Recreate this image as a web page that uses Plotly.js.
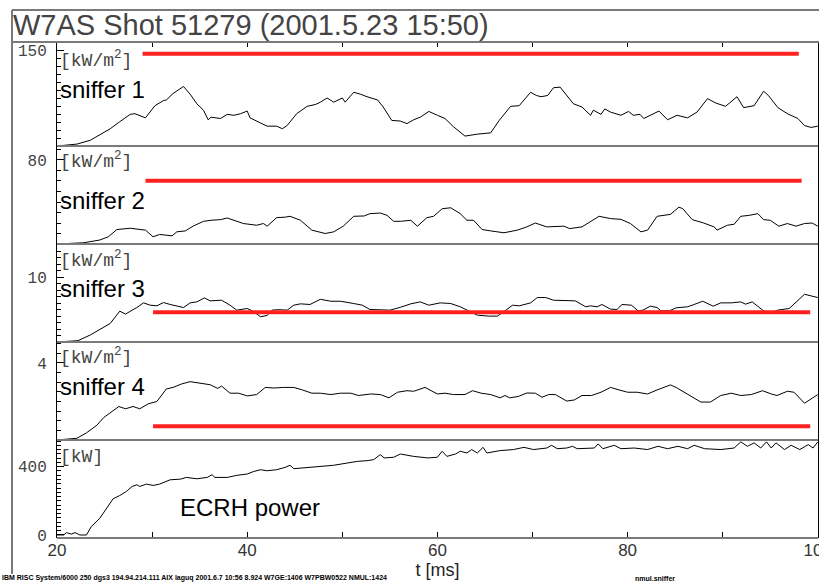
<!DOCTYPE html>
<html>
<head>
<meta charset="utf-8">
<script src="https://cdn.plot.ly/plotly-3.0.1.min.js"></script>
<style>html,body{margin:0;padding:0;background:#fff;} #chart{width:819px;height:582px;}</style>
</head>
<body>
<div id="chart"></div>
<script>
// ---- data ----
const t1 = [20,22.1,23.5,24.5,25.6,26.6,27.7,28.2,29.3,30.3,31.2,31.5,32.2,33.3,34,34.7,35.4,35.9,36.2,37.2,37.9,38.6,39.3,40,40.3,41.4,42.1,43.1,43.7,44.2,45.2,46.3,47.2,47.7,48.4,49.1,50,50.3,51.2,51.9,52.6,53.7,54.3,55.2,56.1,56.8,57.5,58.2,59.1,60,60.8,61.7,62.9,64.2,65.6,66.5,67.7,68.6,69.8,70.4,70.9,71.6,72.2,72.9,73.6,74.3,75.2,76.1,76.4,77.2,77.6,78.2,79.3,80.1,80.6,81.3,81.7,83.3,84.2,85.2,86.3,87.3,88.4,89.3,90.3,91.5,92.2,93.3,94.3,94.8,95.8,96.8,97.9,98.6,99.3,100];
const sniffer1 = [0,3,9,17,27,38,49.5,50.5,44,63,71,72,82,93,81,66,56,41,45,43,49.5,48,50.5,54.6,44,36,31,31,27,32,50.5,62,65,68.5,75,68.5,75,68.5,84,81,77,72,61,40,39,35,41,45,54,48,43,30,15.5,18.5,20.6,40,62,63,84,79,77,79,91,92,79,66,61,48,56,49.5,58,53,48,54,48,49.5,43,54.6,41,48,44,53,74,67,62,77,60,63,85.5,79,60,50.5,43,32,29,31];

const t2 = [20,22.8,24.5,25.4,26.3,27.7,29.3,30.1,30.8,32.1,32.6,33.5,34.3,35.4,36.2,37.2,37.9,38.6,39.6,41,41.7,42.1,43.1,44,44.5,45.6,46.8,48.2,49.1,50.1,51.2,52.3,52.9,54,54.7,55.4,56.1,57.2,57.9,58.9,59.6,60.5,61.4,62.4,63.1,63.8,64.7,65.6,67,68.4,69.4,70.3,71.5,73.3,73.9,75.2,76.1,77,78.2,79.3,80.3,81.4,82.1,83.1,84.5,85.4,85.8,86.8,88,89.1,89.4,90.5,91.2,91.9,92.8,93.7,94.3,95,95.9,96.8,97.7,98.6,99.4,100];
const sniffer2 = [0,1.2,3.8,6.9,13.8,15,13.2,6.9,9.1,7.8,11.6,12.5,17,21.6,22.6,23.2,24.8,22.6,19.5,17.9,19.5,17,25.1,25.6,26.4,22.6,13.2,10,11.6,17,26.4,26.7,28.9,29.5,27.3,21.6,21.6,22.6,17,25.1,26.4,33.6,34.5,28.9,22.6,22.6,13.8,12.5,10.7,13.2,16.3,20,16.3,17,14.7,16.3,21,26.4,24.2,23.5,19.5,11.6,13.2,26.4,28.2,35.1,33.6,23.2,20,16.3,13.2,17.9,18.8,26.4,27.3,28.9,23.2,22.6,17,19.5,17,19.5,20,17];

const t3 = [20,22.2,23.5,24.5,25.6,26.6,27.2,27.9,28.4,29.1,29.8,30.5,31.2,31.9,33.3,34,34.7,35.5,36.1,37.3,38.2,38.9,40,40.7,41.4,42.1,42.6,43.3,44.2,44.9,45.6,46.6,47.7,48.8,49.8,51.2,52.1,52.9,54,55,56.1,57.2,58.2,59.1,60.3,61.4,62.4,63.3,64.2,65.4,66.3,67.2,67.9,68.6,69.8,70.5,71.4,72.2,72.9,74.5,75.6,76.1,76.8,77.3,78.2,78.9,79.4,80.4,81.1,81.6,82.4,83.1,83.5,84.4,85.1,86.3,87,87.9,89,89.8,90.9,91.9,92.4,93.1,94.2,94.9,95.8,97,98.6,100];
const sniffer3 = [0,0.2,1.08,1.95,2.87,4.77,4.31,4.92,5.33,6.05,5.69,5.59,6.1,5.8,5.33,6.05,6.2,6.82,6.36,6.46,5.69,4.92,5.18,4.67,3.9,4.1,4.92,5,4.92,5.69,5.9,5.8,6.6,6.3,6.3,5.95,5.69,5.03,5.03,4.92,5.36,5.9,6.2,5.69,6.05,5.95,5.44,4.77,4.15,4,4,4.92,5.69,5.59,6.05,6.87,6.87,6.46,6.46,6.36,5.44,5.59,5.44,5.8,5.08,5.03,5.8,5.69,4.82,4.92,5.54,5.33,4.82,4.82,5.28,5.44,5.8,6.3,5.54,6.05,6.05,6.2,5.85,6.2,4.92,4.41,4.92,5.18,7.38,6.87];

const t4 = [20,22.1,23.1,24.2,24.9,25.6,26.5,27.2,28,28.7,29.6,30.5,31.5,32.2,33.1,34,35,36.1,36.9,37.3,38.2,39.1,40,41,41.9,42.8,43.8,44.9,45.8,46.8,47.7,48.8,49.8,50.9,51.7,53,54,54.9,55.8,56.8,57.5,58.7,60,60.8,61.7,62.9,63.7,64.6,65.6,66.6,67.1,67.6,68.5,69.4,70.3,71,71.7,72.4,73.6,74.4,75.2,76.2,77.2,78.2,79.1,80,81,82.1,83.1,84.5,85.1,86.3,87.7,88.7,89.8,90.9,91.9,93,94.2,95.1,95.7,96.8,97.5,98.6,99.4,100];
const sniffer4 = [0,0.09,0.37,0.77,1.16,1.4,1.74,1.62,1.74,1.62,1.88,2,2.65,2.73,2.91,3.03,2.95,2.87,2.68,2.8,2.43,2.43,2.29,2.36,2.73,2.7,2.73,2.73,2.6,2.43,2.43,2.36,2.43,2.43,2.31,2.39,2.36,2.19,2.48,2.56,2.53,2.73,2.39,2.43,2.36,2.36,2.56,2.43,2.36,2.19,2.31,2.19,2.26,2.44,2.43,2.22,2.36,2.36,2.02,2.08,2.31,2.31,2.48,2.73,2.6,2.48,2.48,2.39,2.6,2.86,2.73,2.39,1.97,1.97,2.31,2.43,2.31,2.36,2.56,2.39,2.31,2.53,2.48,1.91,2.19,2.36];

const t5 = [20,20.7,21,21.5,21.9,22.4,23.1,23.6,24.5,25.2,25.9,26.6,27.3,27.9,28.4,28.7,29.4,30.1,30.8,31.9,33,33.6,34.7,35.8,36.3,36.6,37.9,38.9,40,40.7,41.4,42.1,43.1,44,44.5,44.9,46.3,47.7,49.1,50.5,51.6,52.6,53.3,54,54.4,55.4,56.1,57.5,59,60,60.5,61,61.9,62.4,63.1,63.6,64.2,64.8,65.2,66.6,68,69.1,70.1,71.5,72,72.6,73.6,74.2,74.7,76.5,76.9,77.4,78.6,79.3,80.7,82.1,83.2,84.2,85.3,86.3,87,88.1,89.8,91.2,91.9,92.6,93.3,94,94.6,95.1,95.6,96.5,97.2,98.1,99,99.5,100];
const ecrhPower = [0,0,14,5,14,0,0,49,98,153,212,231,255,284,294,284,298,290,298,323,327,337,329,337,353,337,337,349,357,372,382,376,382,396,408,388,396,400,408,421,431,435,441,470,451,455,474,460,451,455,490,460,474,490,480,500,480,513,480,494,500,513,500,509,525,505,509,519,505,509,533,505,525,505,509,500,519,505,519,505,525,505,500,509,545,519,539,509,545,509,539,500,525,500,529,509,545];

// red reference levels (sniffer 1..4)
const refStart = [29, 29.3, 30.1, 30.1];
const refEnd   = [98, 98.3, 99.2, 99.2];
const refLevel = [144.2, 60.3, 4.59, 0.71];

// labels
const panelNames = ['sniffer 1', 'sniffer 2', 'sniffer 3', 'sniffer 4', 'ECRH power'];
const unitLabels = ['[kW/m<sup>2</sup>]', '[kW/m<sup>2</sup>]', '[kW/m<sup>2</sup>]', '[kW/m<sup>2</sup>]', '[kW]'];
const yTickVals = [[150], [80], [10], [4], [0, 400]];
const xTickVals = [20, 40, 60, 80, 100];
const titleText = 'W7AS Shot 51279 (2001.5.23 15:50)';
const footerLeft = 'IBM RISC System/6000 250 dgs3 194.94.214.111 AIX laguq 2001.6.7 10:56 8.924 W7GE:1406 W7PBW0522 NMUL:1424';
const footerRight = 'nmul.sniffer';

// ---- layout geometry ----
const domains = [[0.7903, 1], [0.5927, 0.7903], [0.3952, 0.5927], [0.1976, 0.3952], [0, 0.1976]];
const ranges = [[0, 162.5], [0, 93.3], [0, 15.15], [0, 5.09], [-17.6, 556]];
const minorDt = [12.5, 10, 1, 0.5, 25];
const unitY = [0.827, 0.857, 0.837, 0.847, 0.827];
const nameY = [0.548, 0.449, 0.551, 0.541, 0.316];

const tArr = [t1, t2, t3, t4, t5];
const vArr = [sniffer1, sniffer2, sniffer3, sniffer4, ecrhPower];
const yNames = ['y', 'y2', 'y3', 'y4', 'y5'];

const traces = [];
for (let i = 0; i < 5; i++) {
  traces.push({
    x: tArr[i], y: vArr[i], type: 'scatter', mode: 'lines',
    xaxis: i === 0 ? 'x2' : 'x', yaxis: yNames[i],
    line: {color: '#000', width: 1}, hoverinfo: 'skip', cliponaxis: false
  });
}
for (let i = 0; i < 4; i++) {
  traces.push({
    x: [refStart[i], refEnd[i]], y: [refLevel[i], refLevel[i]],
    type: 'scatter', mode: 'lines', xaxis: 'x', yaxis: yNames[i],
    line: {color: '#ff2020', width: 4}, hoverinfo: 'skip'
  });
}

const xr = [20, 100.02];
const layout = {
  width: 819, height: 582,
  margin: {l: 57, r: 1, t: 42, b: 44},
  paper_bgcolor: '#fff', plot_bgcolor: '#fff',
  showlegend: false,
  font: {family: 'Liberation Sans, Arial, sans-serif', color: '#222'},
  title: {text: titleText, x: 13/819, xanchor: 'left', xref: 'container',
          y: 1 - 25/582, yanchor: 'middle', yref: 'container',
          font: {family: 'Liberation Sans, Arial, sans-serif', size: 29, color: '#444'}},
  xaxis: {
    anchor: 'y5', range: xr, showgrid: false, zeroline: false, showline: false,
    tickmode: 'array', tickvals: xTickVals, ticks: 'inside', ticklen: 6, tickcolor: '#000',
    minor: {dtick: 10, tick0: 20, ticks: 'inside', ticklen: 6, tickcolor: '#000', showgrid: false},
    tickfont: {family: 'Liberation Sans, Arial, sans-serif', size: 17, color: '#333'},
    ticklabeloverflow: 'allow',
    title: {text: 't [ms]', standoff: 0, font: {family: 'Liberation Sans, Arial, sans-serif', size: 18, color: '#222'}}
  },
  xaxis2: {
    anchor: 'y', overlaying: 'x', matches: 'x', side: 'top', range: xr,
    showgrid: false, zeroline: false, showline: false, showticklabels: false,
    tickmode: 'linear', tick0: 20, dtick: 10, ticks: 'inside', ticklen: 5, tickcolor: '#000'
  },
  shapes: [], annotations: []
};

for (let i = 0; i < 5; i++) {
  const key = i === 0 ? 'yaxis' : 'yaxis' + (i + 1);
  layout[key] = {
    domain: domains[i], range: ranges[i], anchor: 'x',
    showgrid: false, zeroline: false,
    showline: true, linecolor: '#000', linewidth: 1, mirror: true,
    tickmode: 'array', tickvals: yTickVals[i],
    ticks: 'inside', ticklen: 7, tickcolor: '#000',
    minor: {dtick: minorDt[i], ticks: 'inside', ticklen: 4, tickcolor: '#000', showgrid: false},
    tickfont: {family: 'Liberation Mono, DejaVu Sans Mono, monospace', size: 16, color: '#444'},
    ticklabelstandoff: 6
  };
  const dref = yNames[i] + ' domain';
  layout.shapes.push({type: 'line', xref: 'paper', yref: dref, x0: 0, x1: 1, y0: 0, y1: 0,
                      line: {color: '#7a7a7a', width: 2}});
  layout.annotations.push({xref: 'paper', yref: dref, x: 0.001, y: unitY[i], xanchor: 'left', yanchor: 'middle',
    text: unitLabels[i], showarrow: false,
    font: {family: 'Liberation Mono, DejaVu Sans Mono, monospace', size: 18, color: '#444'}});
  layout.annotations.push({xref: 'paper', yref: dref,
    x: i === 4 ? 0.2536 : 0.001, y: nameY[i], xanchor: i === 4 ? 'center' : 'left', yanchor: 'middle',
    text: panelNames[i], showarrow: false,
    font: {family: 'Liberation Sans, Arial, sans-serif', size: 24, color: '#000'}});
}
const fx0 = (12 - 57) / 761;
layout.shapes.push({type: 'line', xref: 'paper', yref: 'paper', x0: fx0, x1: 1.01, y0: 1, y1: 1, line: {color: '#7a7a7a', width: 2}});
layout.shapes.push({type: 'line', xref: 'paper', yref: 'paper', x0: fx0, x1: 1.01, y0: (538 - 10) / 496, y1: (538 - 10) / 496, line: {color: '#7a7a7a', width: 2}});
layout.shapes.push({type: 'line', xref: 'paper', yref: 'paper', x0: fx0, x1: fx0, y0: (538 - 574) / 496, y1: (538 - 10) / 496, line: {color: '#7a7a7a', width: 2}});

layout.annotations.push({xref: 'paper', yref: 'paper', x: -57 / 761, y: (538 - 578) / 496, xanchor: 'left', yanchor: 'middle',
  text: '<b>' + footerLeft + '</b>', showarrow: false, font: {family: 'Liberation Sans Narrow, Liberation Sans, sans-serif', size: 7, color: '#000'}});
layout.annotations.push({xref: 'paper', yref: 'paper', x: (633 - 57) / 761, y: (538 - 578) / 496, xanchor: 'left', yanchor: 'middle',
  text: '<b>' + footerRight + '</b>', showarrow: false, font: {family: 'Liberation Sans, sans-serif', size: 7, color: '#000'}});

Plotly.newPlot('chart', traces, layout, {staticPlot: true, displayModeBar: false});
</script>
</body>
</html>
